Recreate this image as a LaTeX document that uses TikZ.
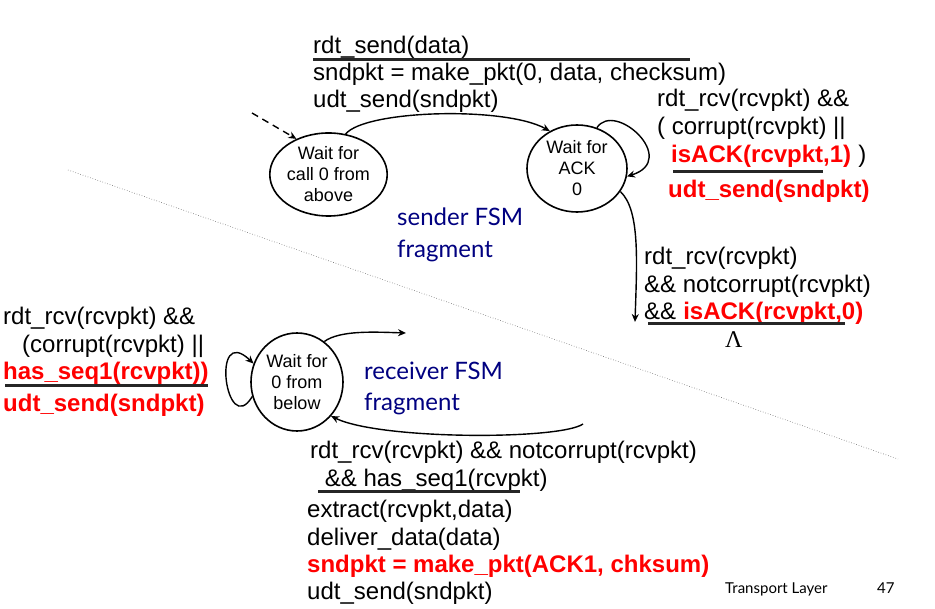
\documentclass[tikz,border=0pt]{standalone}
\usepackage{fontspec}
\setmainfont{Liberation Sans}
\newfontfamily\labelfont{Lato}
\newfontfamily\greekfont{Liberation Serif}
\usetikzlibrary{arrows.meta,shapes.geometric}
\definecolor{fsmred}{RGB}{255,0,0}
\definecolor{fsmblue}{RGB}{0,0,128}
\begin{document}
\begin{tikzpicture}[x=1pt,y=-1pt,
  state/.style={draw,ellipse,line width=1.6pt,inner sep=0pt,align=center,
    font=\fontsize{18}{21}\selectfont},
  txt/.style={anchor=base west,inner sep=0pt,font=\fontsize{24}{27}\selectfont},
  hot/.style={txt,text=fsmred,font=\fontsize{24}{27}\selectfont\bfseries},
  fsmlabel/.style={anchor=base west,inner sep=0pt,text=fsmblue,
    font=\labelfont\fontsize{24}{27}\selectfont},
  rule/.style={line width=3pt,black!85},
  trans/.style={line width=1.4pt,-{Stealth[length=8pt,width=7pt]}},
  divider/.style={line width=0.6pt,black!60,dotted}]
\useasboundingbox (0,0) rectangle (935,609);

% dotted divider between sender and receiver
\draw[divider] (68,170) -- (898,459);

% states
\node[state,minimum width=97pt,minimum height=83pt] (A) at (328.5,174.5) {Wait for\\call 0 from\\above};
\node[state,minimum width=100pt,minimum height=87pt] (B) at (577,168.5) {Wait for\\ACK\\0};
\node[state,minimum width=92pt,minimum height=98pt] (C) at (297,382) {Wait for\\0 from\\below};

% free ends of connectors
\coordinate (init) at (252,113);
\coordinate (sdown) at (635,322);
\coordinate (rout) at (406,333);
\coordinate (rin) at (583,424);

% sender transitions
\draw[trans,dash pattern=on 7pt off 5pt] (init) -- (A.132);
\draw[trans] (A.67) .. controls (365,110) and (505,106) .. (B.126);
\draw[trans] (B.64) .. controls (615,100) and (680,160) .. (B.-9);
\draw[trans] (B.-28) .. controls (640,210) and (637,260) .. (sdown);

% receiver transitions
\draw[trans] (C.198) .. controls (226,440) and (210,322) .. (C.157);
\draw[trans] (C.56) .. controls (340,330) and (375,332) .. (rout);
\draw[trans] (rin) .. controls (560,440) and (380,440) .. (C.-45);

% sender: wait for call 0 -> wait for ACK 0
\node[txt] (s1) at (313,54) {rdt\_send(data)};
\draw[rule] (313,60) -- (690,60);
\node[txt] (s2) at (313,81) {sndpkt = make\_pkt(0, data, checksum)};
\node[txt] (s3) at (313,108) {udt\_send(sndpkt)};

% sender: self loop on wait for ACK 0
\node[txt] (l1) at (657,107) {rdt\_rcv(rcvpkt) \&\&};
\node[txt] (l2) at (657,135) {( corrupt(rcvpkt) ||};
\node[hot] (l3) at (671,163) {isACK(rcvpkt,1)};
\node[txt] (l3b) at (l3.base east) [anchor=base west] {\ )};
\draw[rule] (673,172) -- (823,172);
\node[hot] (l4) at (668,198) {udt\_send(sndpkt)};

% sender: wait for ACK 0 -> next state
\node[txt] (d1) at (644,265) {rdt\_rcv(rcvpkt)};
\node[txt] (d2) at (644,293) {\&\& notcorrupt(rcvpkt)};
\node[txt] (d3) at (644,320) {\&\&};
\node[hot] (d3b) at (d3.base east) {\ isACK(rcvpkt,0)};
\draw[rule] (648,324) -- (845,324);
\node[anchor=base west,inner sep=0pt,font=\greekfont\fontsize{24}{27}\selectfont] (lam) at (725,348) {Λ};

\node[fsmlabel] (sf1) at (397,226) {sender FSM};
\node[fsmlabel] (sf2) at (397,258) {fragment};

% receiver: self loop on wait for 0 from below
\node[txt] (r1) at (3,325) {rdt\_rcv(rcvpkt) \&\&};
\node[txt] (r2) at (22,353) {(corrupt(rcvpkt) ||};
\node[hot] (r3) at (3,380) {has\_seq1(rcvpkt))};
\draw[rule] (5,386) -- (208,386);
\node[hot] (r4) at (3,412) {udt\_send(sndpkt)};

\node[fsmlabel] (rf1) at (364,380) {receiver FSM};
\node[fsmlabel] (rf2) at (364,411) {fragment};

% receiver: transition into wait for 0 from below
\node[txt] (b1) at (310,459) {rdt\_rcv(rcvpkt) \&\& notcorrupt(rcvpkt)};
\node[txt] (b2) at (318,486) {\ \&\& has\_seq1(rcvpkt)};
\draw[rule] (318,492) -- (520,492);
\node[txt] (b3) at (307,518) {extract(rcvpkt,data)};
\node[txt] (b4) at (307,545) {deliver\_data(data)};
\node[hot] (b5) at (307,572) {sndpkt = make\_pkt(ACK1, chksum)};
\node[txt] (b6) at (307,599) {udt\_send(sndpkt)};

% footer
\node[anchor=base west,inner sep=0pt,font=\labelfont\fontsize{15}{18}\selectfont] (foot) at (725,593) {Transport Layer};
\node[anchor=base west,inner sep=0pt,font=\labelfont\fontsize{15}{18}\selectfont] (page) at (877,593) {47};
\end{tikzpicture}
\end{document}
